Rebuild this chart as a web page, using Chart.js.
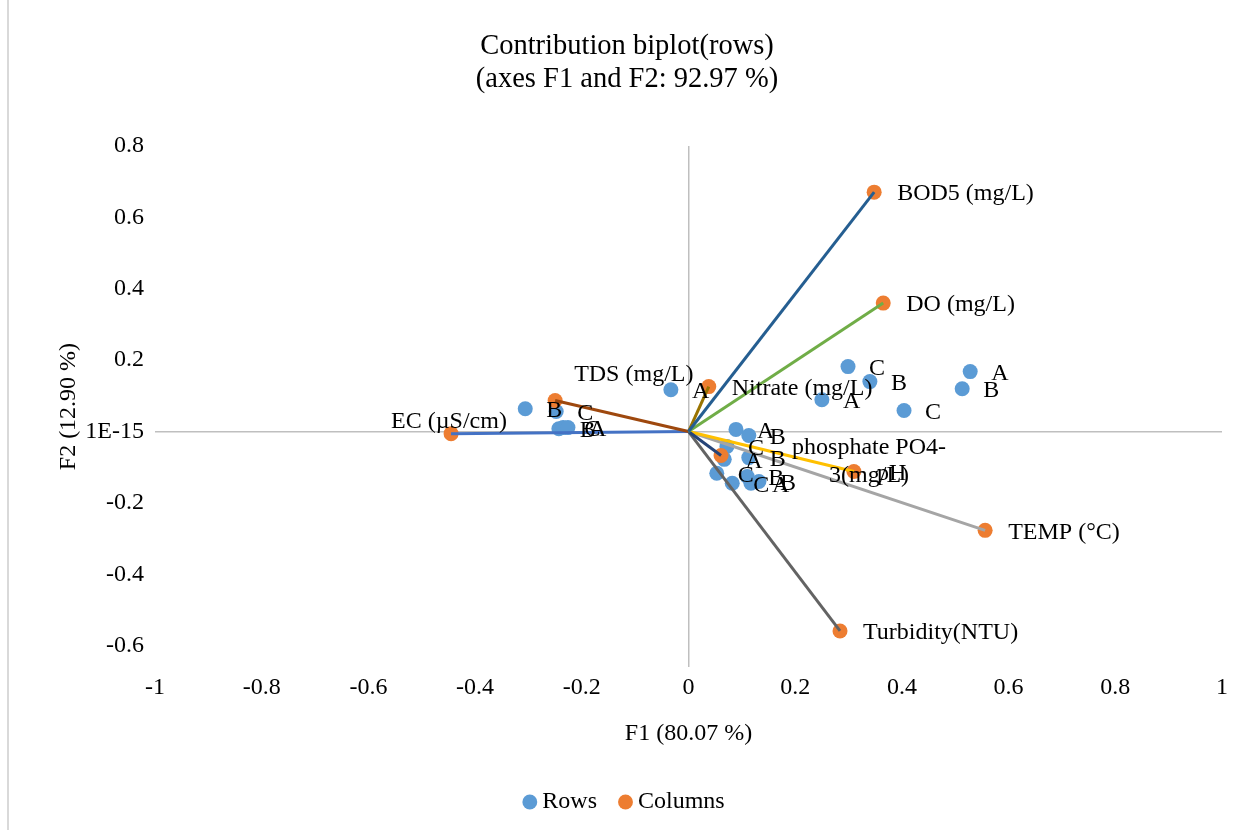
<!DOCTYPE html>
<html>
<head>
<meta charset="utf-8">
<title>Contribution biplot</title>
<script src="https://cdn.jsdelivr.net/npm/chart.js@4.4.0/dist/chart.umd.min.js"></script>
<style>
  html, body { margin: 0; padding: 0; background: #fff; }
  #wrap { position: relative; width: 1245px; height: 830px; }
  #edge { position: absolute; left: 7px; top: 0; width: 2px; height: 830px; background: #d9d9d9; }
  canvas { position: absolute; left: 0; top: 0; }
</style>
</head>
<body>
<div id="wrap">
  <div id="edge"></div>
  <canvas id="biplot" width="1245" height="830"></canvas>
</div>
<script>
// variables (columns) - F1 / F2 coordinates
const colNames = ['BOD5 (mg/L)', 'DO (mg/L)', 'TDS (mg/L)', 'Nitrate (mg/L)', 'EC (µS/cm)',
  'phosphate PO4-3(mg/L)', 'pH', 'TEMP (°C)', 'Turbidity(NTU)'];
const colF1 = [0.348, 0.365, -0.250, 0.038, -0.445, 0.061, 0.310, 0.556, 0.284];
const colF2 = [0.671, 0.360, 0.087, 0.126, -0.006, -0.067, -0.112, -0.277, -0.559];

// observations (rows)
const rowLabels = ['C', 'B', 'A', 'C', 'A', 'B', 'A',
  'B', 'C', 'B', 'C', 'A',
  'A', 'B', 'C', 'A', 'B', 'C', 'C', 'B', 'A', 'B'];
const rowF1 = [0.299, 0.340, 0.250, 0.404, 0.528, 0.513, -0.033,
  -0.306, -0.248, -0.243, -0.235, -0.226,
  0.089, 0.113, 0.072, 0.067, 0.113, 0.053, 0.082, 0.110, 0.117, 0.132];
const rowF2 = [0.182, 0.140, 0.089, 0.059, 0.168, 0.120, 0.117,
  0.064, 0.056, 0.008, 0.011, 0.011,
  0.006, -0.011, -0.042, -0.078, -0.073, -0.117, -0.145, -0.126, -0.145, -0.140];

const xTicks = [-1, -0.8, -0.6, -0.4, -0.2, 0, 0.2, 0.4, 0.6, 0.8, 1];
const yTicks = [0.8, 0.6, 0.4, 0.2, 0, -0.2, -0.4, -0.6];

const vectorColors = ['#255E91', '#70AD47', '#9E480E', '#997300', '#4472C4',
  '#264478', '#FFC000', '#A5A5A5', '#636363'];

const serif = '"Liberation Serif", "Times New Roman", serif';
const txt = '#000000';

// a few labels are moved away from the default "right of point" place, like in the original
const labelMoves = {
  'EC (µS/cm)': { dx: -60, dy: -12 },
  'TDS (mg/L)': { dx: 19, dy: -26 },
  'phosphate PO4-3(mg/L)': { dx: 148, dy: -8, lines: ['phosphate PO4-', '3(mg/L)'] }
};

const pointLabels = {
  id: 'pointLabels',
  afterDatasetsDraw(chart) {
    const { ctx } = chart;
    const xs = chart.scales.x, ys = chart.scales.y;
    ctx.save();
    ctx.font = '24px ' + serif;
    ctx.fillStyle = txt;
    ctx.textBaseline = 'middle';
    ctx.textAlign = 'left';
    rowLabels.forEach((t, i) => {
      ctx.fillText(t, xs.getPixelForValue(rowF1[i]) + 21, ys.getPixelForValue(rowF2[i]) + 2);
    });
    colNames.forEach((t, i) => {
      const px = xs.getPixelForValue(colF1[i]);
      const py = ys.getPixelForValue(colF2[i]);
      const m = labelMoves[t];
      if (!m) {
        ctx.textAlign = 'left';
        ctx.fillText(t, px + 23, py + 2);
      } else if (m.lines) {
        ctx.textAlign = 'center';
        m.lines.forEach((l, k) => ctx.fillText(l, px + m.dx, py + m.dy + k * 28));
      } else {
        ctx.textAlign = 'left';
        ctx.fillText(t, px + m.dx, py + m.dy);
      }
    });
    ctx.restore();
  }
};

const datasets = [
  {
    label: 'Rows',
    data: rowF1.map((v, i) => ({ x: v, y: rowF2[i] })),
    backgroundColor: '#5B9BD5',
    borderWidth: 0,
    pointRadius: 7.5,
    pointStyle: 'circle',
    order: 3
  },
  {
    label: 'Columns',
    data: colF1.map((v, i) => ({ x: v, y: colF2[i] })),
    backgroundColor: '#ED7D31',
    borderWidth: 0,
    pointRadius: 7.5,
    pointStyle: 'circle',
    order: 2
  }
];
colNames.forEach((n, i) => {
  datasets.push({
    label: n,
    data: [{ x: 0, y: 0 }, { x: colF1[i], y: colF2[i] }],
    showLine: true,
    borderColor: vectorColors[i],
    borderWidth: 3,
    pointRadius: 0,
    order: 1
  });
});

new Chart(document.getElementById('biplot'), {
  type: 'scatter',
  data: { datasets },
  options: {
    responsive: false,
    animation: false,
    layout: { padding: { top: 0, right: 23, bottom: 6, left: 32 } },
    plugins: {
      tooltip: { enabled: false },
      title: {
        display: true,
        text: ['Contribution biplot(rows)', '(axes F1 and F2: 92.97 %)'],
        color: txt,
        font: { family: serif, size: 28.5, weight: 'normal', lineHeight: 1.16 },
        padding: { top: 30, bottom: 50 }
      },
      legend: {
        position: 'bottom',
        labels: {
          filter: item => item.datasetIndex < 2,
          sort: (a, b) => a.datasetIndex - b.datasetIndex,
          usePointStyle: true,
          pointStyle: 'circle',
          boxWidth: 1,
          boxHeight: 10.5,
          padding: 28,
          color: txt,
          font: { family: serif, size: 24 }
        }
      }
    },
    scales: {
      x: {
        type: 'linear',
        min: -1,
        max: 1,
        afterBuildTicks: s => { s.ticks = xTicks.map(v => ({ value: v })); },
        afterFit: s => { s.height = 95; },
        border: { display: false },
        grid: {
          drawTicks: false,
          lineWidth: 1.5,
          color: c => (c.tick && c.tick.value === 0 ? '#bfbfbf' : 'rgba(0,0,0,0)')
        },
        ticks: {
          padding: 6,
          maxRotation: 0,
          autoSkip: false,
          color: txt,
          font: { family: serif, size: 24 },
          callback: v => String(v)
        },
        title: {
          display: true,
          text: 'F1 (80.07 %)',
          color: txt,
          font: { family: serif, size: 24 },
          padding: { top: 0, bottom: 14 }
        }
      },
      y: {
        type: 'linear',
        min: -0.66,
        max: 0.8,
        afterBuildTicks: s => { s.ticks = yTicks.map(v => ({ value: v })); },
        afterFit: s => { s.width = 123; },
        border: { display: false },
        grid: {
          drawTicks: false,
          lineWidth: 1.5,
          color: c => (c.tick && c.tick.value === 0 ? '#bfbfbf' : 'rgba(0,0,0,0)')
        },
        ticks: {
          padding: 11,
          autoSkip: false,
          color: txt,
          font: { family: serif, size: 24 },
          callback: v => (Math.abs(v) < 1e-9 ? '1E-15' : String(v))
        },
        title: {
          display: true,
          text: 'F2 (12.90 %)',
          color: txt,
          font: { family: serif, size: 24 },
          padding: { top: 22, bottom: 0 }
        }
      }
    }
  },
  plugins: [pointLabels]
});
</script>
</body>
</html>
